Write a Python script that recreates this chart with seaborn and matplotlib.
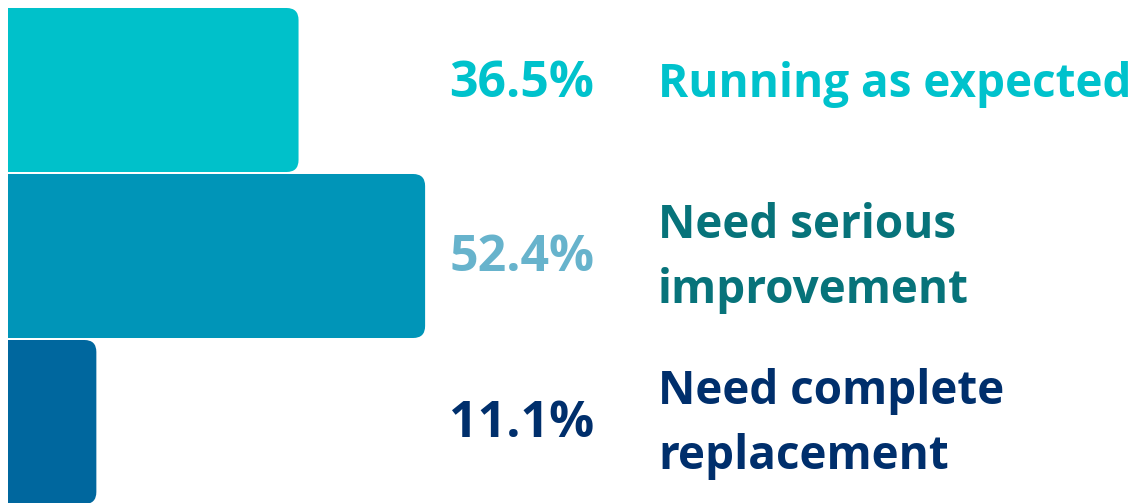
import matplotlib
matplotlib.use("Agg")
import matplotlib.pyplot as plt
import matplotlib.transforms as mtransforms
from matplotlib.patches import FancyBboxPatch
import seaborn as sns

categories = ["Running as expected", "Need serious improvement", "Need complete replacement"]
values = [36.5, 52.4, 11.1]
pct_labels = ["36.5%", "52.4%", "11.1%"]
label_lines = ["Running as expected", "Need serious\nimprovement", "Need complete\nreplacement"]
bar_colors = ["#00C1CA", "#0095B8", "#00679E"]
pct_colors = ["#00C2CC", "#67B3CC", "#002F6C"]
label_colors = ["#00C2CC", "#07737A", "#002F6C"]

sns.set_theme(style="white")
plt.rcParams["font.family"] = ["Open Sans", "DejaVu Sans"]

W, H, DPI = 1140, 503, 100
fig = plt.figure(figsize=(W / DPI, H / DPI), dpi=DPI)
left_px = 8
ax = fig.add_axes([left_px / W, 0, 1 - left_px / W, 1])

sns.barplot(x=values, y=categories, hue=categories, palette=bar_colors,
            orient="h", width=0.988, legend=False, ax=ax, saturation=1)

px_per_x = 7.96
px_per_y = 166.0
ax.set_xlim(0, (W - left_px) / px_per_x)
ax.set_ylim(2 + (H - 422) / px_per_y, -90 / px_per_y)
ax.axis("off")

r_px = 12
r = r_px / px_per_x
asp = px_per_x / px_per_y
for p in list(ax.patches):
    x0, y0, w, h = p.get_x(), p.get_y(), p.get_width(), p.get_height()
    fc = p.get_facecolor()
    p.remove()
    fb = FancyBboxPatch((x0 - 2 * r, y0), w + 2 * r, h,
                        boxstyle=f"round,pad=0,rounding_size={r}",
                        mutation_aspect=asp, fc=fc, ec="none", clip_on=True)
    ax.add_patch(fb)

trans = mtransforms.blended_transform_factory(ax.transAxes, ax.transData)
pct_x = (594 - left_px) / (W - left_px)
lab_x = (658 - left_px) / (W - left_px)
dy = [6, -2, -2]
for i in range(len(categories)):
    ax.annotate(pct_labels[i], xy=(pct_x, i), xycoords=trans,
                xytext=(0, dy[i]), textcoords="offset pixels",
                ha="right", va="center", fontsize=36, fontweight="bold",
                color=pct_colors[i], fontfamily="Open Sans")
    ax.annotate(label_lines[i], xy=(lab_x, i), xycoords=trans,
                xytext=(0, dy[i]), textcoords="offset pixels",
                ha="left", va="center", fontsize=33, fontweight="bold",
                color=label_colors[i], linespacing=1.5,
                fontfamily="Open Sans")

fig.savefig("out.png", dpi=DPI)
